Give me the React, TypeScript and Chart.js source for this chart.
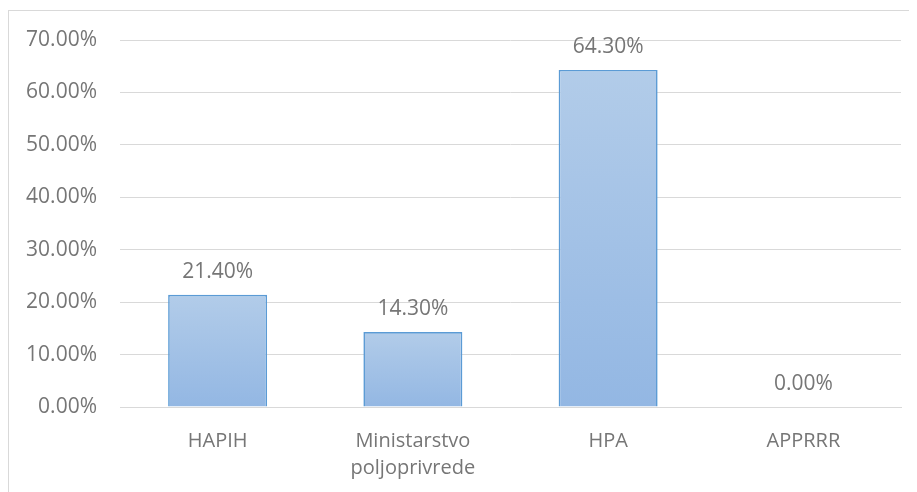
import React, { useEffect, useRef } from "react";
import { Chart, registerables } from "chart.js";

Chart.register(...registerables);

const categories: (string | string[])[] = ["HAPIH", ["Ministarstvo", "poljoprivrede"], "HPA", "APPRRR"];
const values: number[] = [21.4, 14.3, 64.3, 0.0];
const yTicks: number[] = [0, 10, 20, 30, 40, 50, 60, 70];

const FONT = "'Open Sans', sans-serif";
const TEXT = "#767676";

const dataLabels = {
  id: "dataLabels",
  afterDatasetsDraw(chart: any) {
    const ctx = chart.ctx;
    const meta = chart.getDatasetMeta(0);
    ctx.save();
    ctx.font = `21px ${FONT}`;
    ctx.fillStyle = TEXT;
    ctx.textAlign = "center";
    ctx.textBaseline = "alphabetic";
    meta.data.forEach((el: any, i: number) => {
      ctx.fillText(values[i].toFixed(2) + "%", el.x, el.y - 17);
    });
    ctx.restore();
  },
};

export default function App() {
  const ref = useRef<HTMLCanvasElement | null>(null);
  useEffect(() => {
    if (!ref.current) return;
    const chart = new Chart(ref.current, {
      type: "bar",
      data: {
        labels: categories,
        datasets: [
          {
            data: values,
            backgroundColor: (c: any) => {
              const ch = c.chart;
              const y = ch.scales?.y;
              if (!y || c.parsed == null || c.type !== "data") return "#a3c1e7";
              const top = y.getPixelForValue(c.parsed.y);
              const bot = y.getPixelForValue(0);
              if (!isFinite(top) || !isFinite(bot) || top === bot) return "#a3c1e7";
              const g = ch.ctx.createLinearGradient(0, top, 0, bot);
              g.addColorStop(0, "#b2cce9");
              g.addColorStop(1, "#93b7e3");
              return g;
            },
            borderColor: "#5b9bd5",
            borderWidth: 1.6,
            categoryPercentage: 1,
            barPercentage: 0.507,
          },
        ],
      },
      options: {
        animation: false,
        responsive: false,
        maintainAspectRatio: false,
        layout: { padding: { top: 29, right: 16, left: 0, bottom: 0 } },
        plugins: { legend: { display: false }, tooltip: { enabled: false } },
        scales: {
          x: {
            grid: { display: false, drawTicks: false },
            border: { display: true, color: "#d9d9d9", width: 1 },
            ticks: {
              color: TEXT,
              font: { family: FONT, size: 20, lineHeight: 1.35 },
              padding: 21,
              maxRotation: 0,
              autoSkip: false,
            },
            afterFit: (s: any) => {
              s.height = 85;
              s.paddingLeft = 0;
              s.paddingRight = 0;
            },
          },
          y: {
            min: 0,
            max: 70,
            afterBuildTicks: (s: any) => {
              s.ticks = yTicks.map((v) => ({ value: v }));
            },
            grid: { color: "#d9d9d9", lineWidth: 1, drawTicks: false },
            border: { display: false },
            ticks: {
              color: TEXT,
              font: { family: FONT, size: 21 },
              padding: 23,
              callback: (v: any) => Number(v).toFixed(2) + "%",
            },
            afterFit: (s: any) => {
              s.width = 111;
              s.paddingTop = 0;
              s.paddingBottom = 0;
            },
          },
        },
      },
      plugins: [dataLabels],
    });
    return () => chart.destroy();
  }, []);

  return (
    <div style={{ width: 909, height: 482, marginTop: 2, overflow: "hidden", position: "relative" }}>
      <div
        style={{
          position: "absolute",
          left: 0,
          top: 0,
          width: 960,
          height: 520,
          border: "1px solid #d9d9d9",
          boxSizing: "border-box",
        }}
      />
      <canvas
        ref={ref}
        width={908}
        height={481}
        style={{ position: "absolute", left: 1, top: 1, width: 908, height: 481 }}
      />
    </div>
  );
}
